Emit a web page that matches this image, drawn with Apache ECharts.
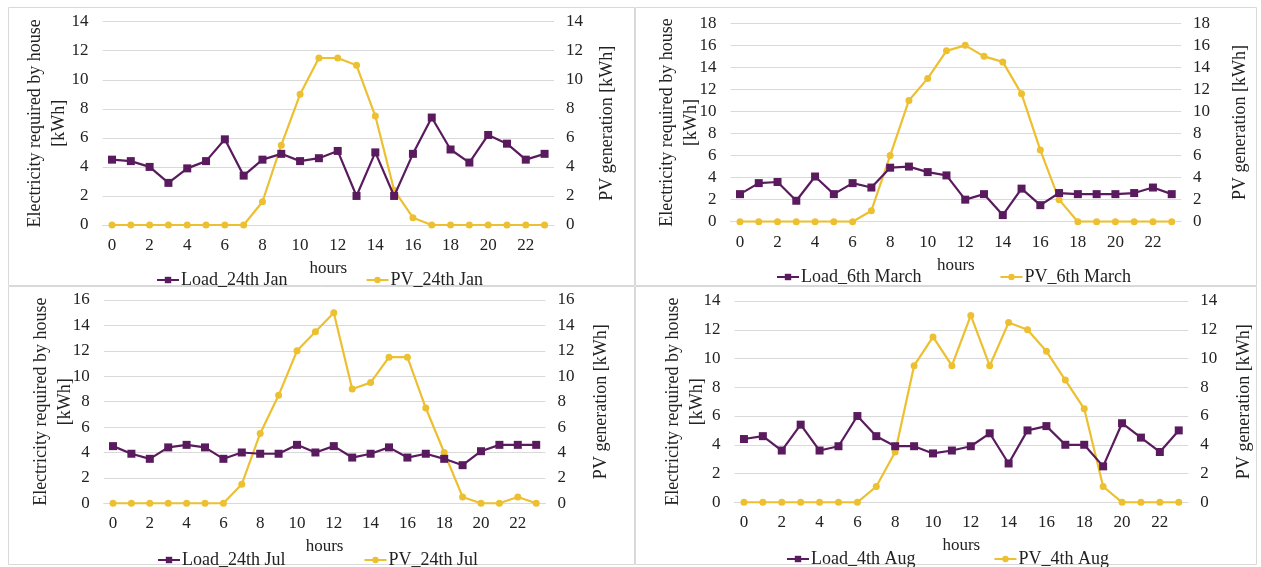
<!DOCTYPE html>
<html><head><meta charset="utf-8">
<script src="https://cdn.jsdelivr.net/npm/echarts@6/dist/echarts.min.js"></script>
<style>html,body{margin:0;padding:0;background:#fff}#c{width:1261px;height:567px}</style>
</head><body><div id="c"></div>
<script>
const hours = ['0','1','2','3','4','5','6','7','8','9','10','11','12','13','14','15','16','17','18','19','20','21','22','23'];

const loadJan = [4.5,4.4,4.0,2.9,3.9,4.4,5.9,3.4,4.5,4.9,4.4,4.6,5.1,2.0,5.0,2.0,4.9,7.4,5.2,4.3,6.2,5.6,4.5,4.9];
const pvJan   = [0,0,0,0,0,0,0,0,1.6,5.5,9.0,11.5,11.5,11.0,7.5,2.4,0.5,0,0,0,0,0,0,0];

const loadMar = [2.5,3.5,3.6,1.9,4.1,2.5,3.5,3.1,4.9,5.0,4.5,4.2,2.0,2.5,0.6,3.0,1.5,2.6,2.5,2.5,2.5,2.6,3.1,2.5];
const pvMar   = [0,0,0,0,0,0,0,1.0,6.0,11.0,13.0,15.5,16.0,15.0,14.5,11.6,6.5,2.0,0,0,0,0,0,0];

const loadJul = [4.5,3.9,3.5,4.4,4.6,4.4,3.5,4.0,3.9,3.9,4.6,4.0,4.5,3.6,3.9,4.4,3.6,3.9,3.5,3.0,4.1,4.6,4.6,4.6];
const pvJul   = [0,0,0,0,0,0,0,1.5,5.5,8.5,12.0,13.5,15.0,9.0,9.5,11.5,11.5,7.5,4.0,0.5,0,0,0.5,0];

const loadAug = [4.4,4.6,3.6,5.4,3.6,3.9,6.0,4.6,3.9,3.9,3.4,3.6,3.9,4.8,2.7,5.0,5.3,4.0,4.0,2.5,5.5,4.5,3.5,5.0];
const pvAug   = [0,0,0,0,0,0,0,1.1,3.5,9.5,11.5,9.5,13.0,9.5,12.5,12.0,10.5,8.5,6.5,1.1,0,0,0,0];

const loadNames = ['Load_24th Jan','Load_6th March','Load_24th Jul','Load_4th Aug'];
const pvNames   = ['PV_24th Jan','PV_6th March','PV_24th Jul','PV_4th Aug'];
const yMax = [14,18,16,14];

const loads = [loadJan, loadMar, loadJul, loadAug];
const pvs = [pvJan, pvMar, pvJul, pvAug];

const PURPLE = '#5a1b5e';
const YELLOW = '#ecc030';
const FONT = 'Liberation Serif';
const TXT = '#222';

const grids = [
  {left:102.6, top:21.7, width:451.4, height:203.3},
  {left:730.6, top:23.3, width:450.5, height:198.4},
  {left:103.8, top:300, width:441.6, height:203.3},
  {left:734.5, top:301, width:453.7, height:201.3}
];
const leftGap = [31, 27, 27, 25];
const rightGap = [44, 50, 47, 47];
const legendPos = [
  {left:151, top:266},
  {left:771, top:263},
  {left:152, top:546},
  {left:781, top:545}
];

const xAxes = [], yAxes = [], series = [], legends = [];
grids.forEach((g, i) => {
  xAxes.push({
    type:'category', gridIndex:i, data:hours, boundaryGap:true,
    axisTick:{show:false},
    axisLine:{lineStyle:{color:'#d9d9d9'}},
    axisLabel:{interval:1, color:TXT, fontFamily:FONT, fontSize:17, margin:12},
    name:'hours', nameLocation:'middle', nameGap:35,
    nameTextStyle:{color:TXT, fontFamily:FONT, fontSize:17}
  });
  yAxes.push({
    type:'value', gridIndex:i, min:0, max:yMax[i], interval:2, position:'left',
    axisLine:{show:false}, axisTick:{show:false},
    splitLine:{lineStyle:{color:'#d9d9d9'}},
    axisLabel:{color:TXT, fontFamily:FONT, fontSize:17, margin:14},
    name:'Electricity required by house\n[kWh]', nameLocation:'middle', nameRotate:90, nameGap:leftGap[i],
    nameMoveOverlap:false,
    nameTextStyle:{color:TXT, fontFamily:FONT, fontSize:18, lineHeight:24, align:'center'}
  });
  yAxes.push({
    type:'value', gridIndex:i, min:0, max:yMax[i], interval:2, position:'right',
    axisLine:{show:false}, axisTick:{show:false},
    splitLine:{show:false},
    axisLabel:{color:TXT, fontFamily:FONT, fontSize:17, margin:12},
    name:'PV generation [kWh]', nameLocation:'middle', nameRotate:90, nameGap:rightGap[i],
    nameMoveOverlap:false,
    nameTextStyle:{color:TXT, fontFamily:FONT, fontSize:18}
  });
  series.push({
    name:loadNames[i], type:'line', xAxisIndex:i, yAxisIndex:2*i, data:loads[i],
    symbol:'rect', symbolSize:8, color:PURPLE,
    lineStyle:{width:2.2, color:PURPLE}, itemStyle:{color:PURPLE}, z:3
  });
  series.push({
    name:pvNames[i], type:'line', xAxisIndex:i, yAxisIndex:2*i+1, data:pvs[i],
    symbol:'circle', symbolSize:7, color:YELLOW,
    lineStyle:{width:2.2, color:YELLOW}, itemStyle:{color:YELLOW}, z:2
  });
  legends.push({
    data:[loadNames[i], pvNames[i]], left:legendPos[i].left, top:legendPos[i].top,
    itemGap:78, itemWidth:22, itemHeight:8,
    textStyle:{color:TXT, fontFamily:FONT, fontSize:18, padding:[0,0,0,-3]}
  });
});

const chart = echarts.init(document.getElementById('c'), null, {renderer:'canvas'});
chart.setOption({
  animation:false,
  backgroundColor:'#fff',
  graphic:[
    {type:'rect', shape:{x:8.5,y:7.5,width:626,height:278}, style:{fill:'none', stroke:'#d9d9d9', lineWidth:1}},
    {type:'rect', shape:{x:635.5,y:7.5,width:621,height:278}, style:{fill:'none', stroke:'#d9d9d9', lineWidth:1}},
    {type:'rect', shape:{x:8.5,y:286.5,width:626,height:278}, style:{fill:'none', stroke:'#d9d9d9', lineWidth:1}},
    {type:'rect', shape:{x:635.5,y:286.5,width:621,height:278}, style:{fill:'none', stroke:'#d9d9d9', lineWidth:1}}
  ],
  grid:grids,
  xAxis:xAxes,
  yAxis:yAxes,
  legend:legends,
  series:series
});
</script></body></html>
